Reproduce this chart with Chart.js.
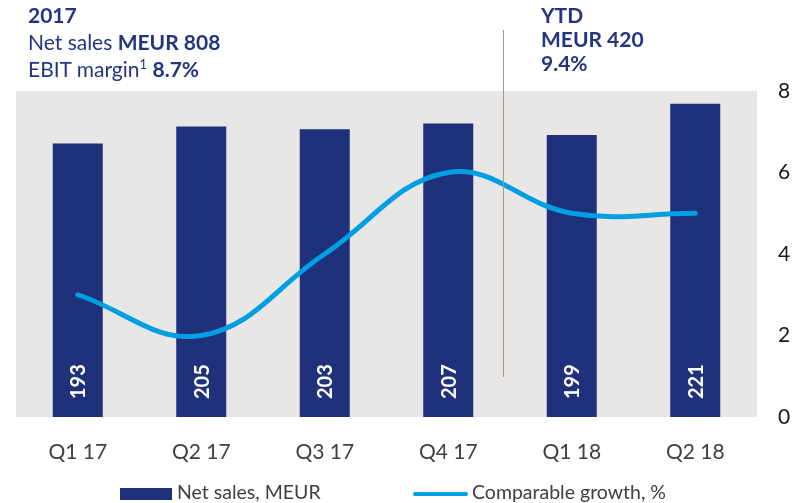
<!DOCTYPE html>
<html>
<head>
<meta charset="utf-8">
<script src="https://cdn.jsdelivr.net/npm/chart.js@4.4.1/dist/chart.umd.min.js"></script>
<style>
  body { margin: 0; background: #fff; font-family: Lato, sans-serif; }
  #wrap { position: relative; width: 806px; height: 503px; overflow: hidden; }
  canvas { position: absolute; left: 0; top: 0; }
  .head { position: absolute; color: #233580; font-size: 21px; line-height: 27px; white-space: nowrap; }
  .head b { font-weight: 700; }
  .head sup { font-size: 13px; line-height: 0; vertical-align: 8px; }
  .leg { position: absolute; top: 483px; font-size: 19.5px; line-height: 18px; color: #404040; white-space: nowrap; }
  .sw { position: absolute; }
</style>
</head>
<body>
<div id="wrap">
  <canvas id="chart" width="806" height="503"></canvas>
  <div class="head" style="left:28px;top:1px;">
    <b>2017</b><br>
    Net sales <b>MEUR 808</b><br>
    EBIT margin<sup>1</sup> <b>8.7%</b>
  </div>
  <div class="head" style="left:541px;top:3px;line-height:24px;">
    <b>YTD</b><br>
    <b>MEUR 420</b><br>
    <b>9.4%</b>
  </div>
  <div class="sw" style="left:120px;top:488px;width:52px;height:12px;background:#1f317a;"></div>
  <div class="leg" style="left:177px;">Net sales, MEUR</div>
  <div class="sw" style="left:413px;top:492px;width:55px;height:4px;border-radius:2px;background:#009fe3;"></div>
  <div class="leg" style="left:472px;">Comparable growth, %</div>
</div>
<script>
const quarters = ['Q1 17', 'Q2 17', 'Q3 17', 'Q4 17', 'Q1 18', 'Q2 18'];
const netSales = [193, 205, 203, 207, 199, 221];
const growth = [3, 2, 4, 6, 5, 5];
const growthTicks = [0, 2, 4, 6, 8];

const navy = '#1f317a';
const cyan = '#009fe3';

// grey plot background
const plotBg = {
  id: 'plotBg',
  beforeDraw(chart) {
    const { ctx, chartArea: a } = chart;
    ctx.save();
    ctx.fillStyle = '#e9e7e6';
    ctx.fillRect(a.left, a.top, a.right - a.left, a.bottom - a.top);
    ctx.restore();
  }
};

// divider between 2017 and 2018, plus the rotated bar values
const extras = {
  id: 'extras',
  afterDatasetsDraw(chart) {
    const ctx = chart.ctx;
    const x = chart.scales.x.getPixelForValue(3.44);
    const y = chart.scales.y1;
    ctx.save();
    ctx.strokeStyle = '#a09a94';
    ctx.lineWidth = 1;
    ctx.beginPath();
    ctx.moveTo(Math.round(x) + 0.5, y.getPixelForValue(9.5));
    ctx.lineTo(Math.round(x) + 0.5, y.getPixelForValue(0.98));
    ctx.stroke();

    const meta = chart.getDatasetMeta(0);
    ctx.fillStyle = '#fff';
    ctx.font = 'bold 20px Lato';
    ctx.textAlign = 'left';
    ctx.textBaseline = 'middle';
    meta.data.forEach((bar, i) => {
      ctx.save();
      ctx.translate(bar.x, bar.base - 18);
      ctx.rotate(-Math.PI / 2);
      ctx.fillText(String(netSales[i]), 0, 1);
      ctx.restore();
    });
    ctx.restore();
  }
};

new Chart(document.getElementById('chart'), {
  data: {
    labels: quarters,
    datasets: [
      {
        type: 'bar',
        label: 'Net sales, MEUR',
        data: netSales,
        backgroundColor: navy,
        yAxisID: 'y',
        categoryPercentage: 1,
        barPercentage: 0.405,
        order: 1
      },
      {
        type: 'line',
        label: 'Comparable growth, %',
        data: growth,
        borderColor: cyan,
        borderWidth: 5,
        borderCapStyle: 'round',
        tension: 0.4,
        pointRadius: 0,
        fill: false,
        yAxisID: 'y1',
        order: 0
      }
    ]
  },
  options: {
    responsive: false,
    animation: false,
    layout: { padding: { left: 16, top: 91, right: 0, bottom: 0 } },
    plugins: { legend: { display: false }, tooltip: { enabled: false } },
    scales: {
      x: {
        offset: true,
        grid: { display: false },
        border: { display: false },
        ticks: { color: '#404040', font: { family: 'Lato', size: 21 }, padding: 15 },
        afterFit(axis) { axis.height = 86; }
      },
      y: {
        display: false,
        min: 0,
        max: 230
      },
      y1: {
        position: 'right',
        min: 0,
        max: 8,
        afterBuildTicks(axis) { axis.ticks = growthTicks.map(v => ({ value: v })); },
        grid: { display: false, drawTicks: false },
        border: { display: false },
        ticks: { color: '#1a1a1a', font: { family: 'Lato', size: 21 }, padding: 21 },
        afterFit(axis) { axis.width = 49; }
      }
    }
  },
  plugins: [plotBg, extras]
});
</script>
</body>
</html>
